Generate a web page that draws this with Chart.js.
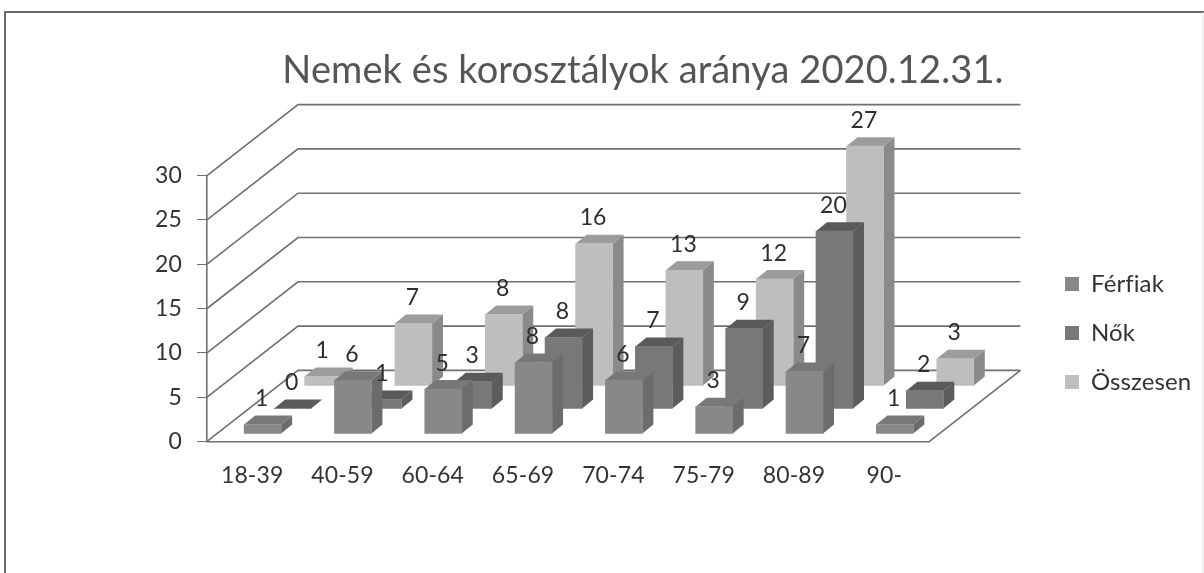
<!DOCTYPE html>
<html><head><meta charset="utf-8">
<style>html,body{margin:0;padding:0;background:#fff}canvas{display:block;filter:blur(0.45px)}#w{width:1204px;height:573px;position:relative}</style>
<script src="https://cdn.jsdelivr.net/npm/chart.js@4"></script>
</head><body><div id="w"><canvas id="c" width="1204" height="573"></canvas></div>
<script>
const categories = ['18-39','40-59','60-64','65-69','70-74','75-79','80-89','90-'];
const ferfiak = [1,6,5,8,6,3,7,1];
const nok = [0,1,3,8,7,9,20,2];
const osszesen = [1,7,8,16,13,12,27,3];
const yTicks = [0,5,10,15,20,25,30];

const FONT = 'Lato';
const wallDX = 91, wallDY = -71;
const rowOffsets = [[10.5,-8],[40.5,-33],[71,-56]];
const barDX = 11, barDY = -9;
const faces = [
  {front:'#888888', side:'#6c6c6c', top:'#787878'},
  {front:'#787878', side:'#5c5c5c', top:'#5a5a5a'},
  {front:'#bebebe', side:'#8a8a8a', top:'#9c9c9c'}
];
function poly(ctx, pts, fill){
  ctx.beginPath(); pts.forEach((p,i)=> i?ctx.lineTo(p[0],p[1]):ctx.moveTo(p[0],p[1])); ctx.closePath();
  ctx.fillStyle = fill; ctx.fill();
}
const scene = {
  id:'scene',
  afterLayout(chart){
    chart.legend.left = 1040; chart.legend.right = 1200;
    chart.legend.top = 233; chart.legend.bottom = 433;
    chart.titleBlock.left = 130; chart.titleBlock.right = 1156;
  },
  beforeDraw(chart){
    const {ctx} = chart;
    ctx.letterSpacing='0.1px';
    ctx.save();
    ctx.fillStyle='#fff'; ctx.fillRect(0,0,chart.width,chart.height);
    ctx.strokeStyle='#6a6a6a'; ctx.lineWidth=2;
    ctx.beginPath(); ctx.moveTo(5,600); ctx.lineTo(5,12); ctx.lineTo(1204,12); ctx.stroke();
    ctx.strokeStyle='#e2e2e2'; ctx.lineWidth=1;
    ctx.beginPath(); ctx.moveTo(1203,12); ctx.lineTo(1203,573); ctx.stroke();
    ctx.restore();
  },
  beforeDatasetsDraw(chart){
    const {ctx, scales:{x,y}} = chart;
    const L = x.left, R = x.right, B = y.getPixelForValue(0);
    ctx.save();
    ctx.strokeStyle='#707070'; ctx.lineWidth=1.6;
    yTicks.forEach(v=>{
      const p = y.getPixelForValue(v);
      ctx.beginPath(); ctx.moveTo(L,p); ctx.lineTo(L+wallDX,p+wallDY); ctx.lineTo(R+wallDX,p+wallDY); ctx.stroke();
    });
    ctx.beginPath(); ctx.moveTo(R,B); ctx.lineTo(R+wallDX,B+wallDY); ctx.stroke();
    ctx.restore();
    chart.data.datasets.forEach((ds,d)=>{
      const [ox,oy] = rowOffsets[d];
      chart.getDatasetMeta(d).data.forEach((el,i)=>{
        el.x = x.getPixelForValue(i)+ox;
        el.y = y.getPixelForValue(ds.data[i])+oy;
        el.base = B+oy;
      });
    });
  },
  beforeDatasetDraw(chart,args){
    const {ctx} = chart, f = faces[args.index];
    args.meta.data.forEach(el=>{
      const l = el.x-el.width/2, r = el.x+el.width/2, t = el.y, b = el.base;
      poly(ctx,[[r,t],[r+barDX,t+barDY],[r+barDX,b+barDY],[r,b]],f.side);
      poly(ctx,[[l,t],[l+barDX,t+barDY],[r+barDX,t+barDY],[r,t]],f.top);
    });
  },
  afterDatasetsDraw(chart){
    const {ctx} = chart;
    ctx.save();
    ctx.fillStyle='#2e2e2e'; ctx.font='23px '+FONT; ctx.textAlign='center'; ctx.textBaseline='middle';
    chart.data.datasets.forEach((ds,d)=>{
      chart.getDatasetMeta(d).data.forEach((el,i)=>{
        ctx.fillText(String(ds.data[i]), el.x-1, el.y-26);
      });
    });
    ctx.restore();
  }
};
new Chart(document.getElementById('c'),{
  type:'bar',
  data:{labels:categories,datasets:[
    {label:'Férfiak',data:ferfiak,backgroundColor:faces[0].front,clip:false},
    {label:'Nők',data:nok,backgroundColor:faces[1].front,clip:false},
    {label:'Összesen',data:osszesen,backgroundColor:faces[2].front,clip:false}
  ]},
  plugins:[scene],
  options:{
    responsive:false,animation:false,
    layout:{padding:{left:130,right:114,top:48,bottom:72}},
    datasets:{bar:{grouped:false,barThickness:37,borderWidth:0}},
    scales:{
      x:{
        grid:{display:false,drawOnChartArea:false,drawTicks:true,tickLength:8,color:'#707070',offset:true},
        border:{display:true,color:'#707070',width:1.6},
        ticks:{color:'#333',font:{family:FONT,size:23},padding:12,maxRotation:0,autoSkip:false}
      },
      y:{
        min:0,max:30,
        afterFit(a){a.width=77;},
        afterBuildTicks(a){a.ticks=yTicks.map(v=>({value:v}));},
        grid:{drawOnChartArea:false,drawTicks:true,tickLength:10,color:'#707070'},
        border:{display:true,color:'#707070',width:1.6},
        ticks:{color:'#333',font:{family:FONT,size:23},padding:15}
      }
    },
    plugins:{
      tooltip:{enabled:false},
      title:{display:true,text:'Nemek és korosztályok aránya 2020.12.31.',color:'#555',font:{family:FONT,size:38,weight:'normal'},padding:{top:0,bottom:82}},
      legend:{position:'right',align:'center',labels:{boxWidth:14,boxHeight:14,padding:25,color:'#333',font:{family:FONT,size:24}}}
    }
  }
});
</script></body></html>
